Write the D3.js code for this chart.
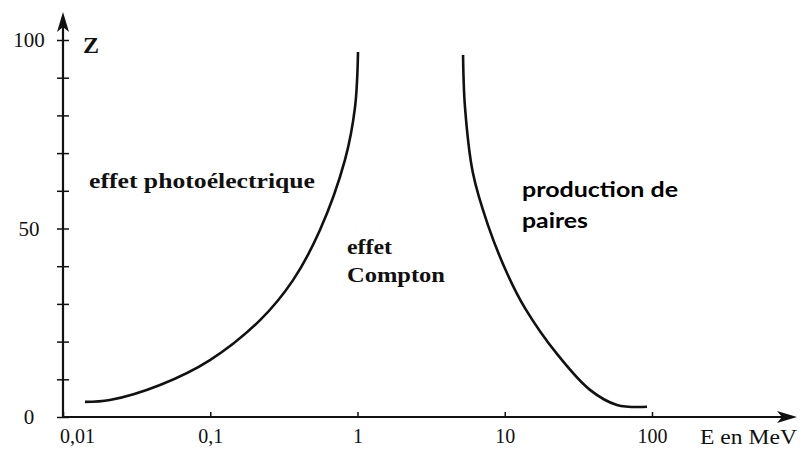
<!DOCTYPE html>
<html>
<head>
<meta charset="utf-8">
<style>
  body { margin: 0; background: #fff; }
  svg { display: block; }
  .serif { font-family: "Liberation Serif", "DejaVu Serif", serif; fill: #111; }
  .sans { font-family: Lato, "Open Sans", sans-serif; font-weight: bold; fill: #000; }
</style>
</head>
<body>
<div id="chart"></div>
<script src="https://d3js.org/d3.v7.min.js"></script>
<script>
// tick values / labels
var energyTicks = [0.01, 0.1, 1, 10, 100];
var energyLabels = ["0,01", "0,1", "1", "10", "100"];
var zTicks = [0, 10, 20, 30, 40, 50, 60, 70, 80, 90, 100];
var zLabels = [0, 50, 100];

// boundary photoelectric / Compton
var photoE = [0.0141, 0.0208, 0.0456, 0.0996, 0.218, 0.365, 0.556, 0.822, 0.962, 1.008];
var photoZ = [4.0, 4.5, 8.5, 15.1, 25.7, 36.3, 49.6, 68.2, 82.2, 96.8];

// boundary Compton / pair production
var pairE = [5.21, 5.37, 6.08, 7.69, 10.35, 13.72, 22.99, 37.9, 57.8, 92.5];
var pairZ = [96.0, 82.2, 64.7, 50.9, 38.2, 28.9, 16.4, 7.2, 3.2, 2.7];

var width = 803, height = 450;

var svg = d3.select("#chart").append("svg")
    .attr("width", width)
    .attr("height", height);

var x = d3.scaleLog().domain([0.01, 100]).range([63, 652]);
var y = d3.scaleLinear().domain([0, 100]).range([417, 40]);

// x axis
var xAxis = d3.axisBottom(x)
    .tickValues(energyTicks)
    .tickSizeInner(-5)
    .tickSizeOuter(0)
    .tickPadding(12)
    .tickFormat(function(d, i) { return energyLabels[i]; });

var gx = svg.append("g")
    .attr("transform", "translate(0," + y(0) + ")")
    .call(xAxis);
gx.select(".domain").remove();
gx.selectAll(".tick line").attr("stroke", "#111").attr("stroke-width", 1.5);
gx.selectAll(".tick text")
    .attr("class", "serif")
    .style("font-size", "20px")
    .attr("dx", function(d) { return d === 0.01 ? 14 : 0; });

// y axis
var yAxis = d3.axisLeft(y)
    .tickValues(zTicks)
    .tickSizeInner(6)
    .tickSizeOuter(0)
    .tickPadding(0)
    .tickFormat(function(d) { return zLabels.indexOf(d) >= 0 ? d : ""; });

var gy = svg.append("g")
    .attr("transform", "translate(" + x(0.01) + ",0)")
    .call(yAxis);
gy.select(".domain").remove();
gy.selectAll(".tick line").attr("x1", 6).attr("stroke", "#111").attr("stroke-width", 1.5);
gy.selectAll(".tick text")
    .attr("class", "serif")
    .style("font-size", "21px")
    .attr("text-anchor", "middle")
    .attr("x", -34);

// axis lines with arrows
var x0 = x(0.01), y0 = y(0);
svg.append("line")
    .attr("x1", x0).attr("y1", y0).attr("x2", x0).attr("y2", 20)
    .attr("stroke", "#111").attr("stroke-width", 2.2);
svg.append("line")
    .attr("x1", x0).attr("y1", y0).attr("x2", 790).attr("y2", y0)
    .attr("stroke", "#111").attr("stroke-width", 2.2);
svg.append("path")
    .attr("d", "M" + x0 + ",12 L" + (x0 + 6) + ",32 L" + x0 + ",27 L" + (x0 - 6) + ",32 Z")
    .attr("fill", "#111");
svg.append("path")
    .attr("d", "M797," + y0 + " L777," + (y0 - 6) + " L782," + y0 + " L777," + (y0 + 6) + " Z")
    .attr("fill", "#111");

// curves
var line = d3.line()
    .x(function(d) { return x(d[0]); })
    .y(function(d) { return y(d[1]); })
    .curve(d3.curveCatmullRom.alpha(0.5));

svg.append("path")
    .datum(d3.zip(photoE, photoZ))
    .attr("d", line)
    .attr("fill", "none")
    .attr("stroke", "#111")
    .attr("stroke-width", 2.6);

svg.append("path")
    .datum(d3.zip(pairE, pairZ))
    .attr("d", line)
    .attr("fill", "none")
    .attr("stroke", "#111")
    .attr("stroke-width", 2.6);

// axis names
svg.append("text").attr("class", "serif")
    .attr("x", 83).attr("y", 53)
    .style("font-size", "24px").style("font-weight", "bold")
    .text("Z");
svg.append("text").attr("class", "serif")
    .attr("x", 700).attr("y", 444)
    .attr("textLength", 97).attr("lengthAdjust", "spacingAndGlyphs")
    .style("font-size", "20px")
    .text("E en MeV");

// region labels
svg.append("text").attr("class", "serif")
    .attr("x", 89).attr("y", 188)
    .attr("textLength", 226).attr("lengthAdjust", "spacingAndGlyphs")
    .style("font-size", "22px").style("font-weight", "bold")
    .text("effet photoélectrique");
svg.append("text").attr("class", "serif")
    .attr("x", 347).attr("y", 254)
    .attr("textLength", 45).attr("lengthAdjust", "spacingAndGlyphs")
    .style("font-size", "22px").style("font-weight", "bold")
    .text("effet");
svg.append("text").attr("class", "serif")
    .attr("x", 347).attr("y", 282)
    .attr("textLength", 98).attr("lengthAdjust", "spacingAndGlyphs")
    .style("font-size", "22px").style("font-weight", "bold")
    .text("Compton");

svg.append("text").attr("class", "sans")
    .attr("x", 522).attr("y", 197)
    .attr("textLength", 156).attr("lengthAdjust", "spacingAndGlyphs")
    .style("font-size", "20px")
    .text("production de");
svg.append("text").attr("class", "sans")
    .attr("x", 522).attr("y", 228)
    .attr("textLength", 66).attr("lengthAdjust", "spacingAndGlyphs")
    .style("font-size", "20px")
    .text("paires");
</script>
</body>
</html>
